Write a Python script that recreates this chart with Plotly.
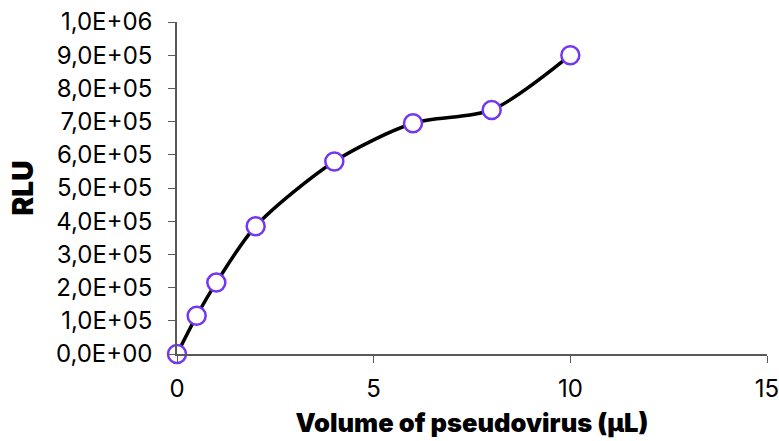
import plotly.graph_objects as go

volume_ul = [0, 0.5, 1, 2, 4, 6, 8, 10]
rlu = [0, 115000, 215000, 385000, 580000, 695000, 735000, 900000]

y_tick_vals = [0, 100000, 200000, 300000, 400000, 500000, 600000, 700000, 800000, 900000, 1000000]
y_tick_text = ["0,0E+00", "1,0E+05", "2,0E+05", "3,0E+05", "4,0E+05", "5,0E+05",
               "6,0E+05", "7,0E+05", "8,0E+05", "9,0E+05", "1,0E+06"]
x_tick_vals = [0, 5, 10, 15]

fig = go.Figure()
fig.add_trace(go.Scatter(
    x=volume_ul, y=rlu, mode="lines+markers",
    line=dict(color="black", width=3.5, shape="spline", smoothing=0.8),
    marker=dict(size=18, color="white", line=dict(color="#7436F0", width=2.5)),
    cliponaxis=False, showlegend=False,
))

font_family = "Inter, Roboto, sans-serif"
fig.update_layout(
    width=779, height=441,
    margin=dict(l=177, r=12, t=22, b=87),
    plot_bgcolor="white", paper_bgcolor="white",
    font=dict(family=font_family, size=24, color="black"),
    xaxis=dict(
        range=[0, 15], tickvals=x_tick_vals, ticks="outside", ticklen=7,
        tickcolor="#595959", showline=True, linecolor="#595959", linewidth=1.5,
        showgrid=False, zeroline=False, ticklabelstandoff=5, automargin=False,
        ticklabeloverflow="allow",
        title=dict(text="Volume of pseudovirus (μL)", standoff=13,
                   font=dict(size=25.5, family=font_family, weight=900)),
    ),
    yaxis=dict(
        range=[0, 1000000], tickvals=y_tick_vals, ticktext=y_tick_text,
        ticks="outside", ticklen=7, tickcolor="#595959", showline=True,
        linecolor="#595959", linewidth=1.5, showgrid=False, zeroline=False,
        ticklabelstandoff=11, automargin=False, ticklabeloverflow="allow",
        title=dict(text="RLU", standoff=14,
                   font=dict(size=28, family=font_family, weight=900)),
    ),
)

fig.write_html(
    "out.html",
    config={"displayModeBar": False},
    post_script="document.body.style.margin='0';document.body.style.padding='0';",
)
